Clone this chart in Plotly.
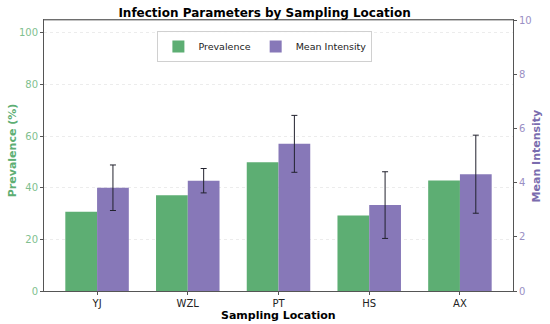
import plotly.graph_objects as go

locations = ["YJ", "WZL", "PT", "HS", "AX"]
prevalence = [30.7, 37.1, 49.9, 29.3, 42.8]
mean_intensity = [3.81, 4.07, 5.43, 3.17, 4.31]
intensity_err = [0.84, 0.45, 1.05, 1.23, 1.44]

GREEN = "#5DAE73"
PURPLE = "#8778B8"
FONT = "DejaVu Sans"

fig = go.Figure()
fig.add_trace(go.Bar(
    x=locations, y=prevalence, name="Prevalence",
    marker=dict(color=GREEN, line=dict(width=0)),
    width=0.35, offset=-0.35, yaxis="y",
))
fig.add_trace(go.Bar(
    x=locations, y=mean_intensity, name="Mean Intensity",
    marker=dict(color=PURPLE, line=dict(width=0)),
    width=0.35, offset=0.0, yaxis="y2",
    error_y=dict(type="data", array=intensity_err, visible=True,
                 color="#22222e", thickness=1, width=3),
))

fig.update_layout(
    width=550, height=324,
    margin=dict(l=44, r=37, t=20, b=33, autoexpand=False),
    paper_bgcolor="white", plot_bgcolor="white",
    font=dict(family=FONT, size=10, color="#222"),
    title=dict(text="<b>Infection Parameters by Sampling Location</b>",
               x=0.481, xanchor="center", y=0.962, yanchor="middle",
               font=dict(size=12, color="black")),
    showlegend=True,
    legend=dict(orientation="h", x=0.471, xanchor="center", y=0.902, yanchor="middle",
                bgcolor="rgba(255,255,255,0.9)", bordercolor="#d0d0d0", borderwidth=1,
                font=dict(size=9.5, color="#222"), itemwidth=30),
    barmode="overlay",
    xaxis=dict(
        range=[-0.585, 4.585], showline=True, linecolor="#555", linewidth=1,
        mirror=True, ticks="outside", ticklen=3, tickcolor="#555",
        tickfont=dict(size=10, color="#222"),
        showgrid=False,
    ),
    yaxis=dict(
        range=[0, 105], tickvals=[0, 20, 40, 60, 80, 100],
        showline=True, linecolor="#555", linewidth=1,
        ticks="outside", ticklen=3, tickcolor="#555",
        tickfont=dict(size=10, color="#7fbf8f"),
        showgrid=True, gridcolor="#ececec", griddash="dot", gridwidth=1,
        zeroline=False,
    ),
    yaxis2=dict(
        range=[0, 10], tickvals=[0, 2, 4, 6, 8, 10], overlaying="y", side="right",
        showline=True, linecolor="#555", linewidth=1,
        ticks="outside", ticklen=3, tickcolor="#555",
        tickfont=dict(size=10, color="#9a8fc4"),
        showgrid=False, zeroline=False,
    ),
    shapes=[dict(type="line", xref="paper", yref="paper", x0=0, x1=1, y0=1, y1=1,
                 line=dict(color="#888", width=1))],
    annotations=[
        dict(text="<b>Prevalence (%)</b>", xref="paper", yref="paper",
             x=-0.068, y=0.52, xanchor="center", yanchor="middle", textangle=-90,
             showarrow=False, font=dict(size=11, color=GREEN)),
        dict(text="<b>Mean Intensity</b>", xref="paper", yref="paper",
             x=1.051, y=0.5, xanchor="center", yanchor="middle", textangle=-90,
             showarrow=False, font=dict(size=11, color="#7a6cae")),
        dict(text="<b>Sampling Location</b>", xref="paper", yref="paper",
             x=0.5, y=-0.09, xanchor="center", yanchor="middle",
             showarrow=False, font=dict(size=11, color="black")),
    ],
)

fig.write_html("out.html", config={"displayModeBar": False},
               post_script="document.body.style.margin='0';document.body.style.overflow='hidden';")
